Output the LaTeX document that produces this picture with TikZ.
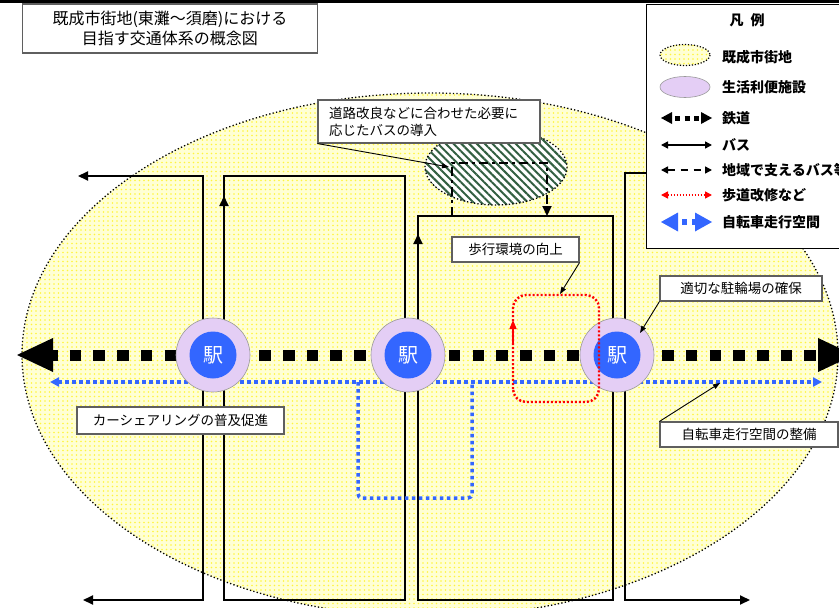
\documentclass[tikz,border=0pt]{standalone}
\usepackage{fontspec}
\setmainfont{Noto Sans CJK JP}
\usetikzlibrary{arrows.meta,patterns.meta}
\definecolor{stblue}{RGB}{51,102,255}
\definecolor{lav}{RGB}{228,206,245}
\definecolor{hatchgreen}{RGB}{50,95,65}
\definecolor{boxgray}{RGB}{95,95,95}
\definecolor{paleyellow}{RGB}{255,255,212}
\definecolor{dotyellow}{RGB}{255,245,60}
\tikzset{
  bus/.style={line width=2pt, line join=miter},
  bustip/.style={-{Triangle[length=10pt,width=9pt]}},
  busboth/.style={{Triangle[length=10pt,width=9pt]}-{Triangle[length=10pt,width=9pt]}},
  communitybus/.style={line width=2pt, dash pattern=on 9pt off 4pt on 3pt off 4pt},
  callout/.style={draw=boxgray, line width=1.1pt, fill=white, inner sep=0pt, font=\fontsize{13.5}{17}\selectfont},
  pointer/.style={line width=0.9pt, -{Triangle[length=7pt,width=5pt]}},
  bike/.style={stblue, line width=3.5pt, dash pattern=on 3.5pt off 3.5pt},
  biketip/.style={{Triangle[length=9pt,width=9pt]}-{Triangle[length=9pt,width=9pt]}},
  walk/.style={red, line width=2.4pt, dash pattern=on 2pt off 2pt},
  railline/.style={line width=11pt, dash pattern=on 11.5pt off 12.2pt},
  stationring/.style={circle, draw=black!40, line width=0.6pt, fill=lav, minimum size=74pt, inner sep=0pt},
  stationcore/.style={circle, fill=stblue, minimum size=47pt, inner sep=0pt, text=white, font=\fontsize{20}{20}\selectfont},
  legtext/.style={anchor=west, inner sep=0pt, font=\bfseries\fontsize{14}{16}\selectfont},
  dotborder/.style={line width=1.3pt, dash pattern=on 1.3pt off 2.2pt},
  yellowarea/.style={fill=paleyellow, postaction={pattern={Dots[distance=4.5pt,radius=0.9pt]}, pattern color=dotyellow}},
}
\begin{document}
\begin{tikzpicture}[x=1pt,y=-1pt]
\useasboundingbox (0,0) rectangle (839,608);
\fill[white] (0,0) rectangle (839,608);

% urban area
\path[yellowarea] (430,355) ellipse [x radius=408, y radius=262];
\draw[dotborder] (430,355) ellipse [x radius=408, y radius=262];

% hatched area
\path[fill=white] (496,167) ellipse [x radius=71, y radius=38];
\path[pattern={Lines[angle=-45,distance=5.5pt,line width=2pt]}, pattern color=hatchgreen] (496,167) ellipse [x radius=71, y radius=38];
\draw[dotborder] (496,167) ellipse [x radius=71, y radius=38];

% community bus (dash-dot)
\coordinate (dd1) at (452,216);
\coordinate (dd2) at (452,163);
\coordinate (dd3) at (547,163);
\coordinate (dd4) at (547,216);
\draw[communitybus, bustip] (dd1) -- (dd2) -- (dd3) -- (dd4);

% bus lines
\coordinate (b1s) at (78,176);
\coordinate (b1a) at (203,176);
\coordinate (b1b) at (203,600);
\coordinate (b1e) at (83,600);
\draw[bus, busboth] (b1s) -- (b1a) -- (b1b) -- (b1e);

\coordinate (b2tl) at (224,176);
\coordinate (b2tr) at (405,176);
\coordinate (b2br) at (405,600);
\coordinate (b2bl) at (224,600);
\coordinate (b2m) at (224,196);
\draw[bus] (b2tl) -- (b2tr) -- (b2br) -- (b2bl) -- cycle;
\draw[bus, bustip] (b2bl) -- (b2m);

\coordinate (b3tl) at (418,216);
\coordinate (b3tr) at (613,216);
\coordinate (b3br) at (613,600);
\coordinate (b3bl) at (418,600);
\coordinate (b3m) at (418,234);
\draw[bus] (b3tl) -- (b3tr) -- (b3br) -- (b3bl) -- cycle;
\draw[bus, bustip] (b3bl) -- (b3m);

\coordinate (b4s) at (660,173);
\coordinate (b4a) at (625,173);
\coordinate (b4b) at (625,600);
\coordinate (b4e) at (750,600);
\draw[bus, bustip] (b4s) -- (b4a) -- (b4b) -- (b4e);

% bicycle lanes
\coordinate (bkL) at (50,382);
\coordinate (bkR) at (822,382);
\draw[bike, biketip] (bkL) -- (bkR);
\coordinate (bq1) at (358,382);
\coordinate (bq2) at (358,498);
\coordinate (bq3) at (472,498);
\coordinate (bq4) at (472,382);
\draw[bike, rounded corners=4pt] (bq1) -- (bq2) -- (bq3) -- (bq4);

% railway
\coordinate (rlT) at (17,355);
\coordinate (rlB) at (46,355);
\coordinate (rrB) at (818,355);
\coordinate (rrT) at (854,355);
\draw[railline] (rlB) -- (rrB);
\fill (rlT) -- (53,338) -- (53,372) -- cycle;
\fill (rrT) -- (818,338) -- (818,372) -- cycle;

% stations
\node[stationring] (s1r) at (213,355) {};
\node[stationcore] (s1) at (213,355) {駅};
\node[stationring] (s2r) at (408,355) {};
\node[stationcore] (s2) at (408,355) {駅};
\node[stationring] (s3r) at (617,355) {};
\node[stationcore] (s3) at (617,355) {駅};

% walking loop
\coordinate (w1) at (513,402);
\coordinate (w2) at (513,295);
\coordinate (w3) at (599,295);
\coordinate (w4) at (599,402);
\coordinate (wm) at (513,320);
\coordinate (wb) at (513,345);
\draw[walk, rounded corners=13pt] (w1) -- (w2) -- (w3) -- (w4) -- cycle;
\draw[red, line width=1.5pt, -{Triangle[length=9pt,width=7pt]}] (wb) -- (wm);

% callouts
\node[callout, minimum width=222pt, minimum height=43pt, text width=200pt, align=left] (c1) at (429,121.5) {道路改良などに合わせた必要に\\応じたバスの導入};
\coordinate (c1t) at (449,167);
\draw[pointer] (c1.south west) -- (c1t);

\node[callout, minimum width=127pt, minimum height=25pt] (c2) at (515.5,249.5) {歩行環境の向上};
\coordinate (c2t) at (560,294);
\draw[pointer] (c2.south east) -- (c2t);

\node[callout, minimum width=162pt, minimum height=25pt] (c3) at (741,288.5) {適切な駐輪場の確保};
\coordinate (c3t) at (640,333);
\draw[pointer] (c3.south west) -- (c3t);

\node[callout, minimum width=207pt, minimum height=27pt] (c4) at (180.5,420.5) {カーシェアリングの普及促進};

\node[callout, minimum width=178pt, minimum height=25pt] (c5) at (749,434.5) {自転車走行空間の整備};
\coordinate (c5t) at (720,383);
\draw[pointer] (c5.north west) -- (c5t);

% legend
\node[draw, line width=1.2pt, fill=white, minimum width=215pt, minimum height=244pt, anchor=north west, inner sep=0pt] (legend) at (646,4) {};
\node[inner sep=0pt, font=\bfseries\fontsize{14}{16}\selectfont] (legt) at (747,20) {凡\hspace{0.5em}例};

\path[yellowarea] (685,55) ellipse [x radius=25, y radius=10.5];
\draw[line width=1.2pt, dash pattern=on 1.2pt off 1.8pt] (685,55) ellipse [x radius=25, y radius=10.5];
\node[legtext] (l1) at (722,57) {既成市街地};

\path[fill=lav, draw=black!40, line width=0.6pt] (685,87) ellipse [x radius=25, y radius=10.5];
\node[legtext] (l2) at (722,87) {生活利便施設};

\fill (661,118) -- (672,112) -- (672,124) -- cycle;
\fill (712,118) -- (701,112) -- (701,124) -- cycle;
\draw[line width=5pt, dash pattern=on 5pt off 4.5pt] (675,118) -- (699,118);
\node[legtext] (l3) at (722,118) {鉄道};

\draw[line width=1.5pt, {Triangle[length=7pt,width=7pt]}-{Triangle[length=7pt,width=7pt]}] (661,145) -- (712,145);
\node[legtext] (l4) at (722,145) {バス};

\draw[line width=1.5pt, dash pattern=on 7pt off 6pt, {Triangle[length=7pt,width=7pt]}-{Triangle[length=7pt,width=7pt]}] (661,170) -- (712,170);
\node[legtext] (l5) at (722,170) {地域で支えるバス等};

\draw[red, line width=1.5pt, dash pattern=on 1.5pt off 1.5pt, {Triangle[length=7pt,width=7pt]}-{Triangle[length=7pt,width=7pt]}] (661,195) -- (712,195);
\node[legtext] (l6) at (722,195) {歩道改修など};

\fill[stblue] (661,222) -- (678,212.5) -- (678,231.5) -- cycle;
\fill[stblue] (712,222) -- (695,212.5) -- (695,231.5) -- cycle;
\draw[stblue, line width=6pt, dash pattern=on 5pt off 5pt] (682,222) -- (697,222);
\node[legtext] (l7) at (722,222) {自転車走行空間};

% title
\node[draw=boxgray, line width=1.1pt, fill=white, minimum width=295pt, minimum height=49pt, align=center, inner sep=0pt, font=\fontsize{16}{20}\selectfont] (title) at (170,28.5) {既成市街地(東灘〜須磨)における\\目指す交通体系の概念図};

% top bar
\fill (0,0) rectangle (839,3);
\end{tikzpicture}
\end{document}
